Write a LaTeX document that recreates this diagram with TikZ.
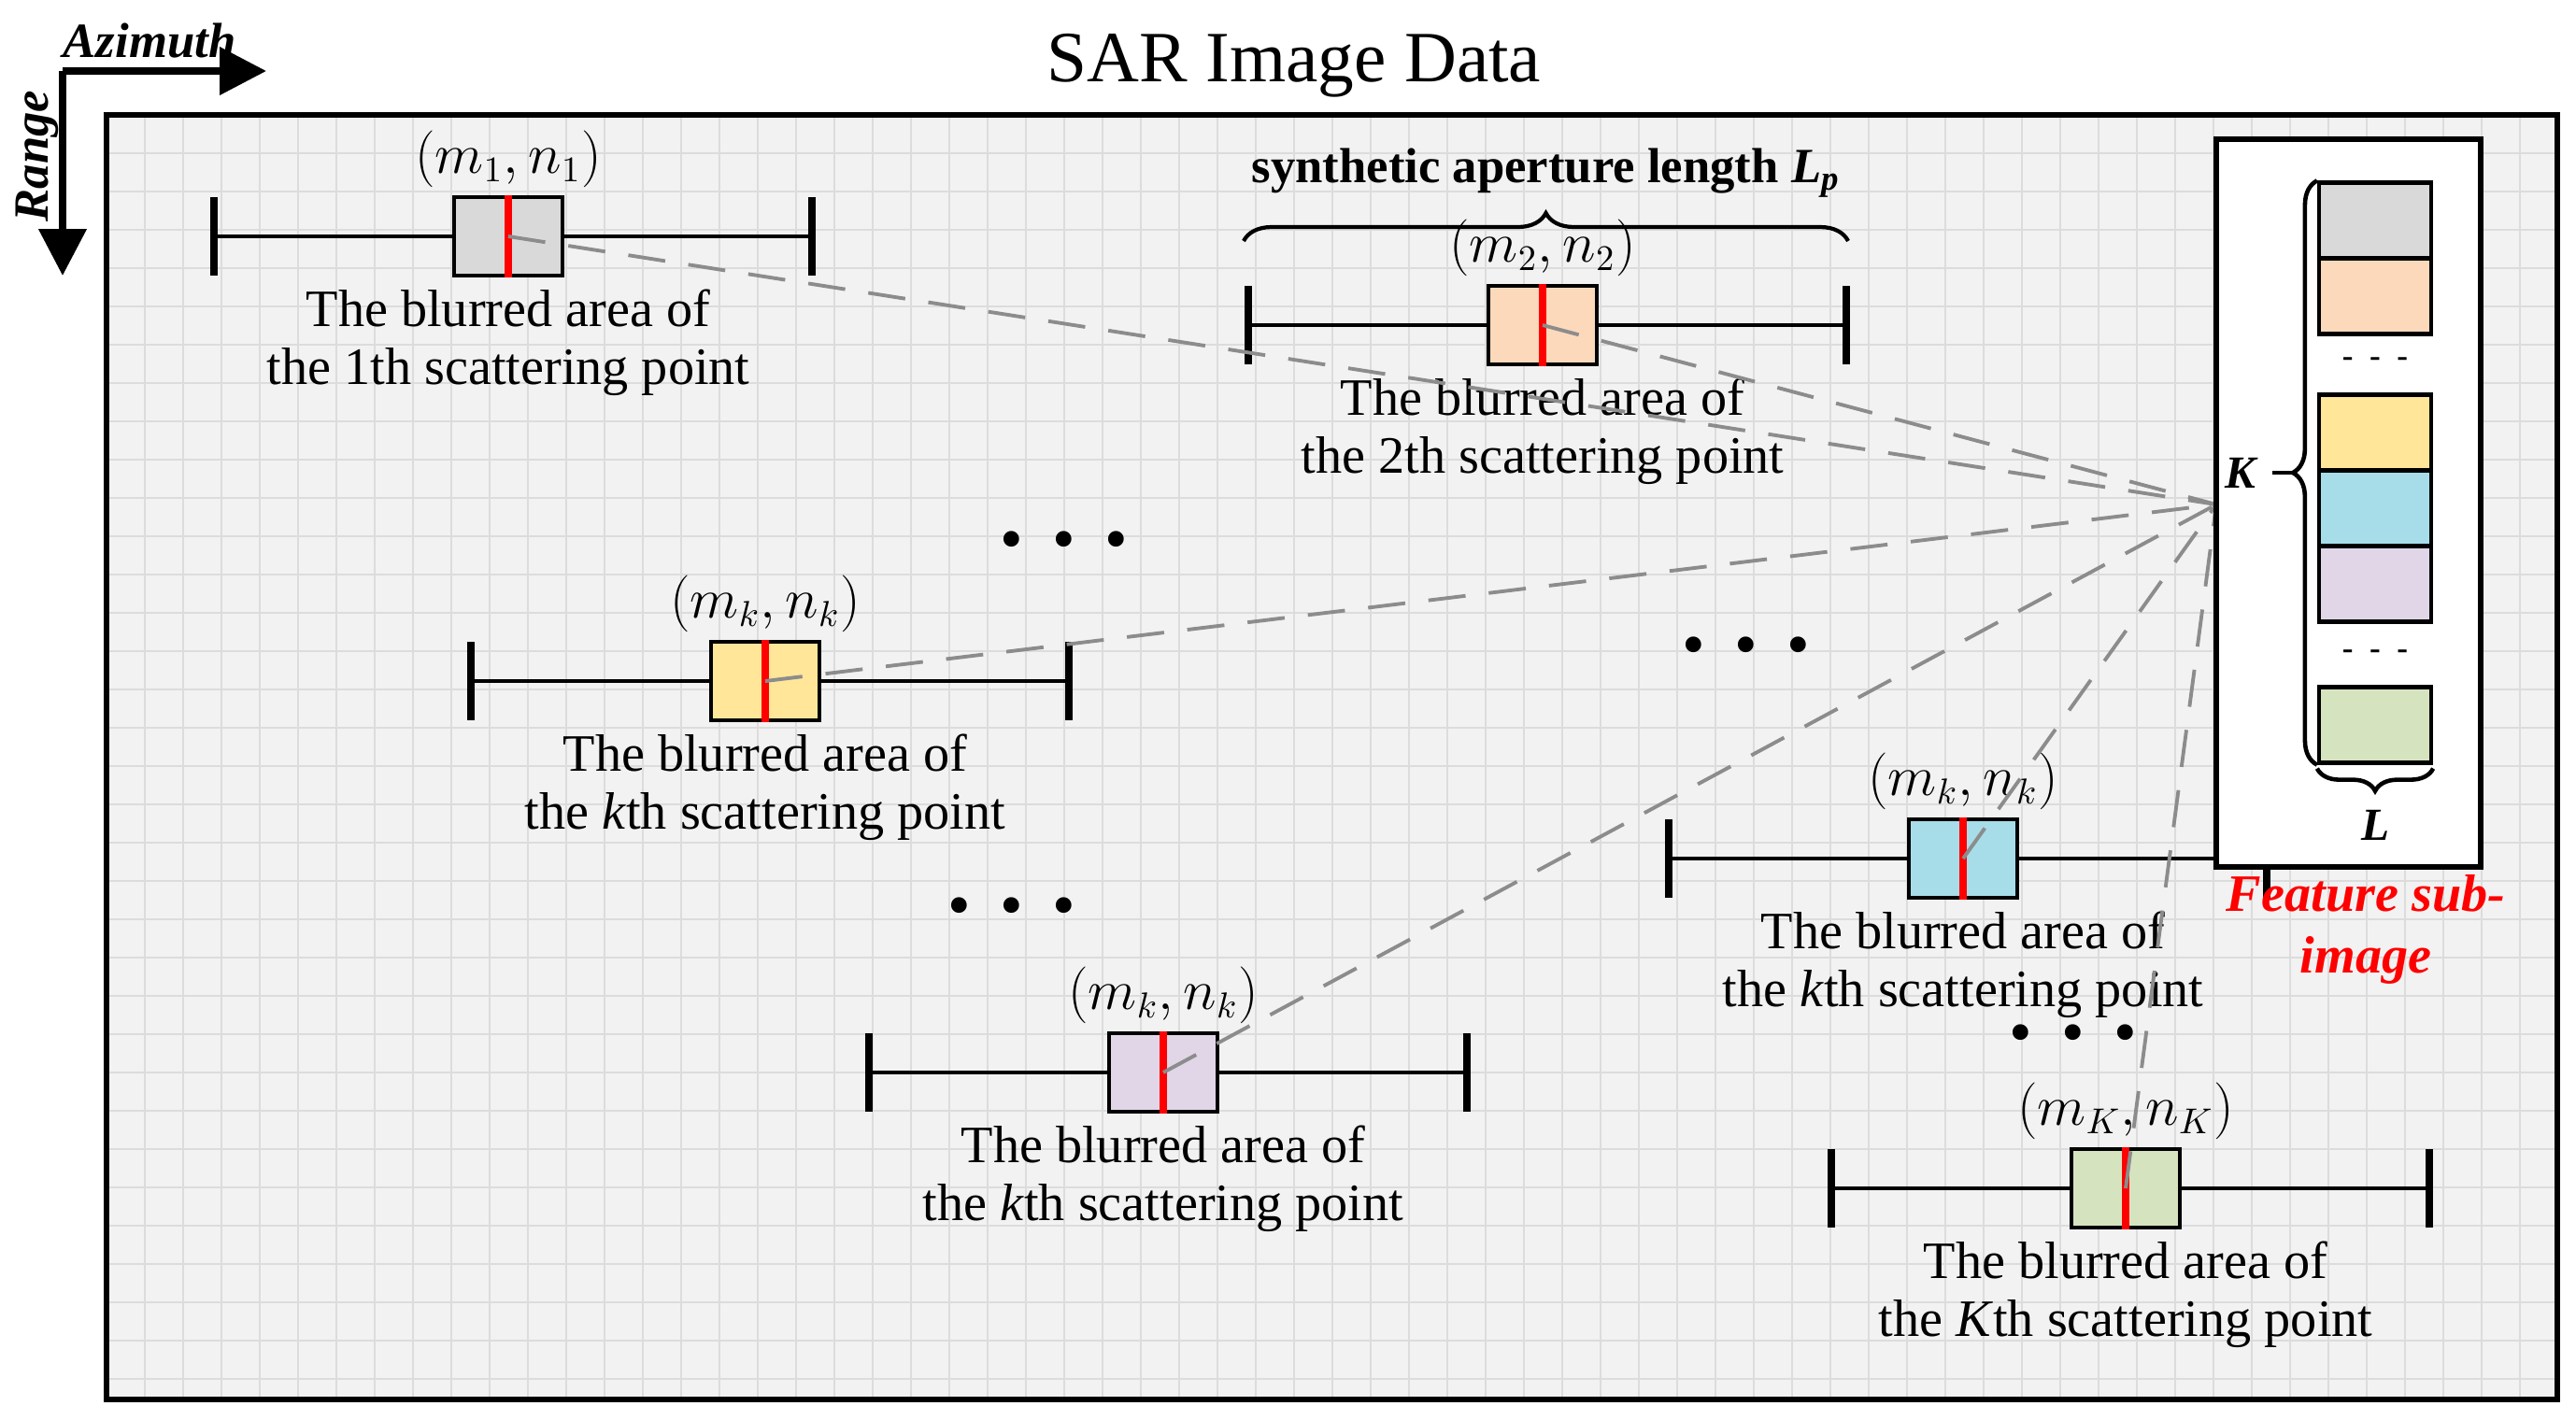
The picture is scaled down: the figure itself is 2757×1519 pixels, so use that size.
\documentclass[tikz,border=0pt]{standalone}
\usepackage{fontspec}
\setmainfont{Liberation Serif}
\usetikzlibrary{calc,positioning,arrows.meta,decorations.pathreplacing}
\definecolor{gridc}{HTML}{DCDCDC}
\definecolor{bgc}{HTML}{F2F2F2}
\definecolor{cgray}{HTML}{D9D9D9}
\definecolor{cpeach}{HTML}{FDD9BC}
\definecolor{cyel}{HTML}{FFE699}
\definecolor{ccyan}{HTML}{A6DDE8}
\definecolor{cpurp}{HTML}{E0D6E8}
\definecolor{cgreen}{HTML}{D5E3BF}
\tikzset{
 bx/.style={draw=black,line width=1.3pt,minimum width=11.6mm,minimum height=8.4mm,inner sep=0pt},
 whisk/.style={line width=1.1pt},
 tickl/.style={line width=2.4pt},
 redl/.style={red,line width=2.4pt},
 dsh/.style={gray!90,dash pattern=on 4mm off 2.5mm,line width=1.1pt},
 lab/.style={font=\fontsize{16}{17}\selectfont,inner sep=1pt},
 txt/.style={font=\fontsize{16}{17.5}\selectfont,align=center,inner sep=0pt},
 dotsn/.style={font=\fontsize{20}{20}\selectfont,inner sep=0pt},
 cell/.style={draw=black,line width=1.2pt,minimum width=12mm,minimum height=8.1mm,inner sep=0pt},
}
\newcommand\bplt[6]{%
 \node[bx,fill=#4] (#1) at (#2,#3) {};
 \coordinate (#1l) at ($(#1)+(-315,0)$);
 \coordinate (#1r) at ($(#1)+(325,0)$);
 \draw[whisk] (#1l) -- (#1.west) (#1.east) -- (#1r);
 \draw[tickl] ($(#1l)+(0,-42)$) -- ($(#1l)+(0,42)$) ($(#1r)+(0,-42)$) -- ($(#1r)+(0,42)$);
 \draw[redl] (#1.north) -- (#1.south);
 \node[lab,above=0.4mm of #1] (#1m) {#5};
 \node[txt,below=1.2mm of #1] (#1t) {The blurred area of\\the #6 scattering point};
}
\begin{document}
\begin{tikzpicture}[x=0.1mm,y=-0.1mm]
\useasboundingbox (0,0) rectangle (2757,1519);
\fill[bgc] (114,123) rectangle (2737,1498);
\foreach \x in {155,196,...,2737} \draw[gridc,line width=0.6pt] (\x,123) -- (\x,1498);
\foreach \y in {164,205,...,1498} \draw[gridc,line width=0.6pt] (114,\y) -- (2737,\y);
\draw[line width=1.6pt] (114,123) rectangle (2737,1498);
\node[font=\fontsize{22}{24}\selectfont] (title) at (1385,70) {SAR Image Data};
% axes
\coordinate (org) at (67,76);
\coordinate (azend) at (285,76);
\coordinate (rgend) at (67,295);
\draw[line width=2.2pt,-{Triangle[length=5mm,width=5mm]}] (org) -- (azend);
\draw[line width=2.2pt,-{Triangle[length=5mm,width=5mm]}] (org) -- (rgend);
\node[font=\fontsize{15}{15}\selectfont\bfseries\itshape] (az) at (160,44) {Azimuth};
\node[font=\fontsize{15}{15}\selectfont\bfseries\itshape,rotate=90] (rg) at (40,167) {Range};
% box plots
\bplt{b1}{544}{253}{cgray}{$(m_1,n_1)$}{1th}
\bplt{b2}{1651}{348}{cpeach}{$(m_2,n_2)$}{2th}
\bplt{b3}{819}{729}{cyel}{$(m_k,n_k)$}{\textit{k}th}
\bplt{b4}{1245}{1148}{cpurp}{$(m_k,n_k)$}{\textit{k}th}
\bplt{b5}{2101}{919}{ccyan}{$(m_k,n_k)$}{\textit{k}th}
\bplt{b6}{2275}{1272}{cgreen}{$(m_K,n_K)$}{\textit{K}th}
% brace Lp
\draw[line width=1.2pt,decorate,decoration={brace,amplitude=3mm}] (1331,258) -- (1978,258)
 node[midway,above=3.3mm,font=\fontsize{15}{15}\selectfont\bfseries] (lp) {synthetic aperture length \textit{L}\textsubscript{\textit{p}}};
% dots
\foreach \p/\n in {{1139,585}/d1,{1083,977}/d2,{1869,698}/d3,{2219,1113}/d4}
 \node[dotsn] (\n) at (\p) {\textbullet\hspace{0.45em}\textbullet\hspace{0.45em}\textbullet};
% dashed connectors
\coordinate (tgt) at (2372,540);
\foreach \b in {b1,b2,b3,b4,b5,b6} \draw[dsh] (\b.center) -- (tgt);
% feature sub-image
\node[draw=black,fill=white,line width=1.6pt,minimum width=28.3mm,minimum height=77.9mm,inner sep=0pt] (fs) at (2513.5,538.5) {};
\node[cell,fill=cgray] (c1) at (2542,236) {};
\node[cell,fill=cpeach,below=-1.2pt of c1] (c2) {};
\node[cell,fill=cyel] (c3) at (2542,463) {};
\node[cell,fill=ccyan,below=-1.2pt of c3] (c4) {};
\node[cell,fill=cpurp,below=-1.2pt of c4] (c5) {};
\node[cell,fill=cgreen] (c6) at (2542,776) {};
\node[font=\bfseries] (fd1) at (2542,388) {-\ \ -\ \ -};
\node[font=\bfseries] (fd2) at (2542,701) {-\ \ -\ \ -};
\draw[line width=1.3pt,decorate,decoration={brace,amplitude=2.6mm}] (c6.south west) -- (c1.north west)
 coordinate[midway,xshift=-2.6mm] (kt);
\coordinate (kl) at ($(kt)+(-22,0)$);
\draw[line width=1.2pt] (kt) -- (kl);
\node[font=\fontsize{14}{14}\selectfont\bfseries\itshape,left=0.5mm of kl] (K) {K};
\draw[line width=1.3pt,decorate,decoration={brace,amplitude=2.4mm}] ([yshift=-0.4mm]c6.south east) -- ([yshift=-0.4mm]c6.south west)
 coordinate[midway,yshift=-2.4mm] (lt);
\node[font=\fontsize{14}{14}\selectfont\bfseries\itshape,below=0.8mm of lt] (L) {L};
\node[font=\fontsize{16}{19}\selectfont\bfseries\itshape,text=red,align=center] (fsl) at (2532,995) {Feature sub-\\image};
\end{tikzpicture}
\end{document}
